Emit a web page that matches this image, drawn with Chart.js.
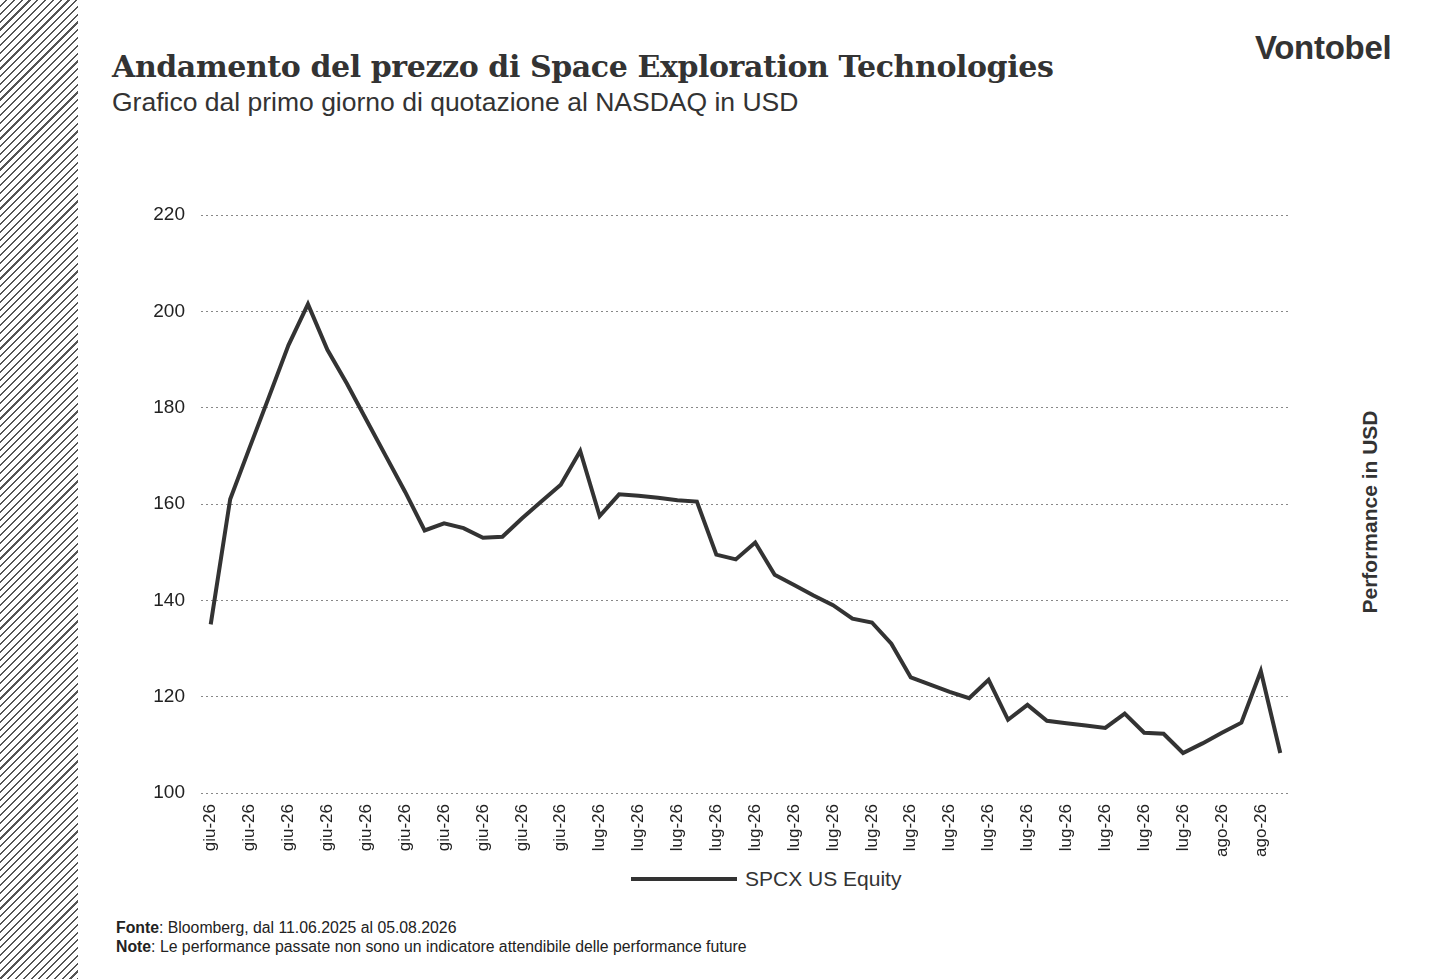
<!DOCTYPE html>
<html><head><meta charset="utf-8">
<script src="https://cdn.jsdelivr.net/npm/chart.js@4"></script>
<style>
body{margin:0;width:1433px;height:979px;background:#fff;position:relative;overflow:hidden;font-family:"Liberation Sans",Arial,sans-serif;color:#333}
#hatch{position:absolute;left:0;top:0;width:78px;height:979px;background:repeating-linear-gradient(135deg,#fff 0 4px,#555 4px 5.5px)}
#title{position:absolute;left:112px;top:49px;font:bold 30px "DejaVu Serif","Liberation Serif",serif;color:#333;letter-spacing:-0.4px}
#sub{position:absolute;left:112px;top:87px;font-size:26.5px;color:#333}
#logo{position:absolute;left:1255px;top:29px;font:bold 33px "Liberation Sans",Arial,sans-serif;color:#333;letter-spacing:-0.3px}
#ytitle{position:absolute;left:1370px;top:512px;transform:translate(-50%,-50%) rotate(-90deg);font:bold 21px "Liberation Sans",Arial;white-space:nowrap;color:#333}
#legend{position:absolute;left:631px;top:867px;font-size:21px;color:#333;display:flex;align-items:center}
#legend span.l{display:inline-block;width:106px;height:4px;background:#333;margin-right:8px}
#foot{position:absolute;left:116px;top:918px;font-size:15.8px;line-height:19px;color:#222}
canvas{position:absolute;left:0;top:0}
</style></head><body>
<div id="hatch"></div>
<div id="title">Andamento del prezzo di Space Exploration Technologies</div>
<div id="sub">Grafico dal primo giorno di quotazione al NASDAQ in USD</div>
<div id="logo">Vontobel</div>
<div id="ytitle">Performance in USD</div>
<div id="legend"><span class="l"></span>SPCX US Equity</div>
<div id="foot"><b>Fonte</b>: Bloomberg, dal 11.06.2025 al 05.08.2026<br><b>Note</b>: Le performance passate non sono un indicatore attendibile delle performance future</div>
<canvas id="c" width="1433" height="979"></canvas>
<script>
const tickLabels = ["giu-26","giu-26","giu-26","giu-26","giu-26","giu-26","giu-26","giu-26","giu-26","giu-26",
"lug-26","lug-26","lug-26","lug-26","lug-26","lug-26","lug-26","lug-26","lug-26","lug-26","lug-26","lug-26","lug-26","lug-26","lug-26","lug-26",
"ago-26","ago-26"];
const categories = [];
tickLabels.forEach(t=>{categories.push(t);categories.push(t);});
const prices = [135,161,171.7,182.3,193,201.5,192,185,177.5,170,162.5,154.5,156,155,153,153.2,157,160.5,164,171,157.5,162,161.7,161.3,160.8,160.5,149.5,148.5,152,145.3,143.2,141,139,136.2,135.4,131,124,122.5,121,119.7,123.5,115.2,118.3,115,114.5,114,113.5,116.5,112.5,112.3,108.3,110.3,112.5,114.6,125.3,108.3];
const yTicks=[100,120,140,160,180,200,220];
new Chart(document.getElementById('c'),{
 type:'line',
 data:{labels:categories,datasets:[{label:'SPCX US Equity',data:prices,borderColor:'#333',borderWidth:4,pointRadius:0,tension:0,fill:false}]},
 options:{responsive:false,animation:false,
  layout:{padding:{left:81,top:215,right:143,bottom:111}},
  plugins:{legend:{display:false},tooltip:{enabled:false}},
  scales:{
   x:{offset:true,grid:{display:false},border:{display:false},
      afterFit:s=>{s.height=75;},
      ticks:{autoSkip:false,maxRotation:90,minRotation:90,color:'#222',font:{size:17,family:'"Liberation Sans",Arial'},
        callback:(v,i)=>i%2===0?categories[i]:''}},
   y:{min:100,max:220,afterFit:s=>{s.width=120;},
      afterBuildTicks:s=>{s.ticks=yTicks.map(v=>({value:v}));},
      border:{display:false,dash:[2,3]},
      grid:{color:'#888',lineWidth:1,drawTicks:false},
      ticks:{padding:16,color:'#222',font:{size:19,family:'"Liberation Sans",Arial'}}}
  }}
});
</script></body></html>
